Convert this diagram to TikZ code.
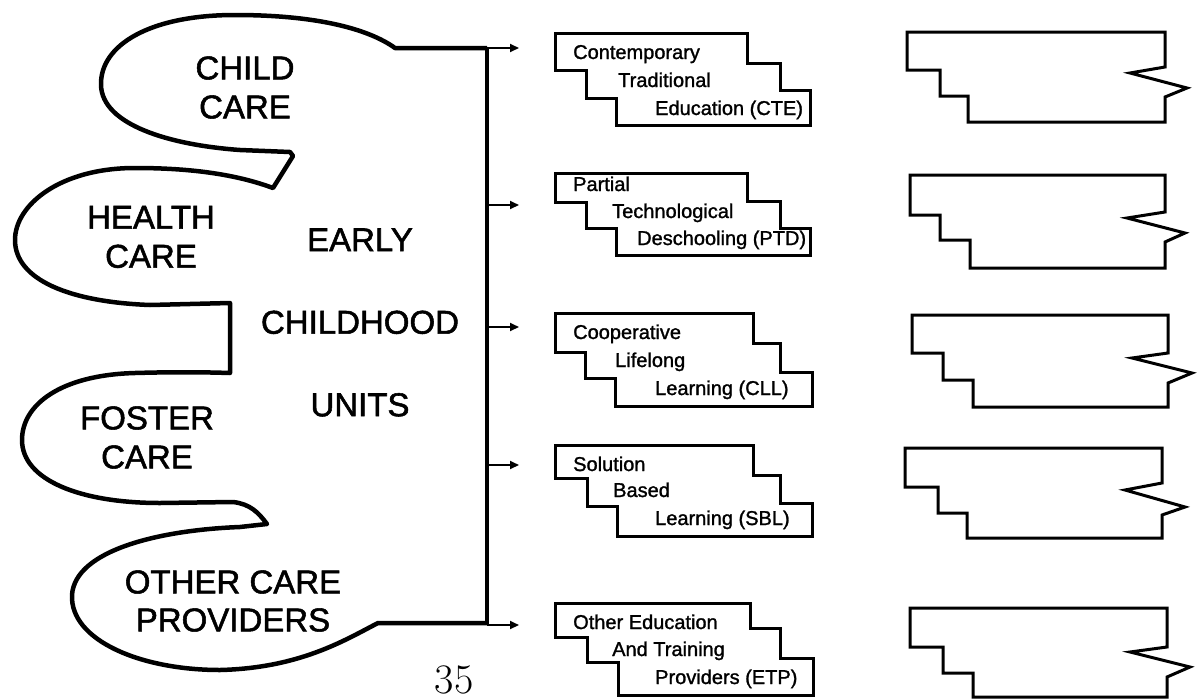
\documentclass[tikz,border=0pt]{standalone}
\usepackage{fontspec}
\setmainfont{Latin Modern Roman}
\newfontfamily\helv[RawFeature={embolden=1.6}]{Liberation Sans}
\newfontfamily\helvs[RawFeature={embolden=1.3}]{Liberation Sans}
\usetikzlibrary{arrows.meta}
\tikzset{
  blob/.style={line width=4.5pt, line join=round},
  spine/.style={line width=4pt},
  arr/.style={line width=2pt, -{Triangle[length=9pt,width=8pt]}},
  stepline/.style={line width=3pt, line join=miter},
  big/.style={font=\helv\fontsize{33}{39}\selectfont, align=center, inner sep=0pt},
  small/.style={font=\helvs\fontsize{20}{24}\selectfont, anchor=base west, inner sep=0pt},
}
\begin{document}
\begin{tikzpicture}[x=1pt,y=-1pt]
\useasboundingbox (0,0) rectangle (1199,699);
\fill[white] (0,0) rectangle (1199,699);

% spine and arrow coordinates
\coordinate (s1) at (487,48);
\coordinate (s2) at (487,205);
\coordinate (s3) at (487,327);
\coordinate (s4) at (487,465);
\coordinate (s5) at (487,625);
\coordinate (e1) at (519,48);
\coordinate (e2) at (519,205);
\coordinate (e3) at (519,327);
\coordinate (e4) at (519,465);
\coordinate (e5) at (519,625);

% left blob
\draw[blob] (s1) -- (395,48)
  .. controls (370,30) and (320,15) .. (235,15)
  .. controls (150,15) and (100,45) .. (101,85)
  .. controls (102,125) and (170,145) .. (240,150)
  -- (290,152) -- (293,156) -- (273,188)
  .. controls (230,172) and (180,168) .. (135,168)
  .. controls (60,168) and (15,205) .. (15,240)
  .. controls (15,280) and (70,302) .. (150,305)
  -- (230,303) -- (230,373)
  .. controls (200,372) and (170,372) .. (135,373)
  .. controls (60,375) and (22,405) .. (22,440)
  .. controls (22,480) and (80,503) .. (160,503)
  -- (233,502)
  .. controls (250,504) and (258,512) .. (267,524)
  -- (240,527)
  .. controls (160,530) and (75,550) .. (72,595)
  .. controls (70,640) and (140,670) .. (220,670)
  .. controls (300,668) and (345,640) .. (378,623)
  -- (487,623);

\draw[spine] (s1) -- (s5);
\foreach \i in {1,...,5} \draw[arr] (s\i) -- (e\i);

% labels in blob
\node[big] (child) at (245,87.5) {CHILD\\CARE};
\node[big] (health) at (151,237) {HEALTH\\CARE};
\node[big] (foster) at (147,437.5) {FOSTER\\CARE};
\node[big, font=\helv\fontsize{33}{38}\selectfont] (other) at (233,601) {OTHER CARE\\PROVIDERS};
\node[big, font=\helv\fontsize{33}{82.5}\selectfont] (ecu) at (360,322.5) {EARLY\\CHILDHOOD\\UNITS};

% left step boxes
\draw[stepline] (555,33) -- (747,33) -- (747,63) -- (780,63) -- (780,90) -- (810,90) -- (810,125)
  -- (616,125) -- (616,98) -- (586,98) -- (586,70) -- (555,70) -- cycle;
\node[small] (b1a) at (573,59) {Contemporary};
\node[small] (b1b) at (618,87) {Traditional};
\node[small] (b1c) at (655,115) {Education (CTE)};

\draw[stepline] (555,173) -- (747,173) -- (747,201) -- (780,201) -- (780,228) -- (810,228) -- (810,255)
  -- (616,255) -- (616,228) -- (586,228) -- (586,202) -- (555,202) -- cycle;
\node[small] (b2a) at (573,191) {Partial};
\node[small] (b2b) at (612,218) {Technological};
\node[small] (b2c) at (637,245) {Deschooling (PTD)};

\draw[stepline] (555,313) -- (753,313) -- (753,343) -- (780,343) -- (780,372) -- (812,372) -- (812,406)
  -- (615,406) -- (615,378) -- (585,378) -- (585,352) -- (555,352) -- cycle;
\node[small] (b3a) at (573,339) {Cooperative};
\node[small] (b3b) at (615,367) {Lifelong};
\node[small] (b3c) at (655,395) {Learning (CLL)};

\draw[stepline] (555,445) -- (753,445) -- (753,475) -- (780,475) -- (780,503) -- (812,503) -- (812,536)
  -- (617,536) -- (617,506) -- (587,506) -- (587,478) -- (555,478) -- cycle;
\node[small] (b4a) at (573,471) {Solution};
\node[small] (b4b) at (613,497) {Based};
\node[small] (b4c) at (655,525) {Learning (SBL)};

\draw[stepline] (555,603) -- (750,603) -- (750,628) -- (780,628) -- (780,658) -- (813,658) -- (813,695)
  -- (618,695) -- (618,662) -- (587,662) -- (587,637) -- (555,637) -- cycle;
\node[small] (b5a) at (573,629) {Other Education};
\node[small] (b5b) at (612,656) {And Training};
\node[small] (b5c) at (655,684) {Providers (ETP)};

% right blank boxes
\draw[stepline] (907,32) -- (1165,32) -- (1165,67) -- (1130,73) -- (1187,88) -- (1165,97) -- (1165,122)
  -- (968,122) -- (968,96) -- (940,96) -- (940,70) -- (907,70) -- cycle;
\draw[stepline] (910,175) -- (1165,175) -- (1165,212) -- (1127,218) -- (1185,233) -- (1165,242) -- (1165,268)
  -- (970,268) -- (970,240) -- (940,240) -- (940,215) -- (910,215) -- cycle;
\draw[stepline] (912,315) -- (1168,315) -- (1168,353) -- (1132,358) -- (1192,373) -- (1168,383) -- (1168,407)
  -- (973,407) -- (973,380) -- (943,380) -- (943,353) -- (912,353) -- cycle;
\draw[stepline] (905,448) -- (1162,448) -- (1162,483) -- (1125,490) -- (1185,507) -- (1162,515) -- (1162,538)
  -- (967,538) -- (967,513) -- (938,513) -- (938,487) -- (905,487) -- cycle;
\draw[stepline] (910,608) -- (1167,608) -- (1167,647) -- (1130,652) -- (1190,667) -- (1167,677) -- (1167,697)
  -- (973,697) -- (973,673) -- (943,673) -- (943,647) -- (910,647) -- cycle;

% page number
\node[font=\fontsize{42}{46}\selectfont, anchor=base, inner sep=0pt] (pg) at (454,693) {35};
\end{tikzpicture}
\end{document}
